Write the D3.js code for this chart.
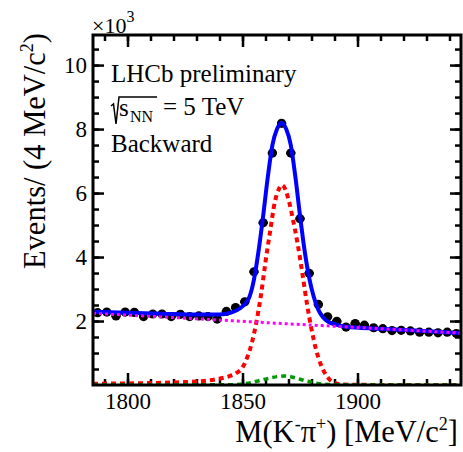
<!DOCTYPE html>
<html><head><meta charset="utf-8">
<script src="https://cdn.jsdelivr.net/npm/d3@7"></script>
<style>body{margin:0;background:#fff}</style>
</head><body>
<svg id="c" width="463" height="452"></svg>
<script>
// ---------- data (counts in units of 10^3 per 4 MeV bin) ----------
const binCenters = [1787,1791,1795,1799,1803,1807,1811,1815,1819,1823,
                    1827,1831,1835,1839,1843,1847,1851,1855,1859,1863,
                    1867,1871,1875,1879,1883,1887,1891,1895,1899,1903,
                    1907,1911,1915,1919,1923,1927,1931,1935,1939,1943];
const binCounts  = [2.26,2.28,2.16,2.28,2.27,2.14,2.22,2.22,2.14,2.21,
                    2.14,2.16,2.14,2.06,2.30,2.42,2.60,3.54,5.07,7.25,
                    8.18,7.25,5.20,3.49,2.52,2.13,1.99,1.81,1.92,1.87,
                    1.79,1.76,1.70,1.71,1.69,1.65,1.65,1.63,1.65,1.61];
const binErrors  = [0.05,0.05,0.05,0.05,0.05,0.05,0.05,0.05,0.05,0.05,
                    0.05,0.05,0.05,0.05,0.05,0.05,0.05,0.06,0.07,0.085,
                    0.09,0.085,0.07,0.06,0.05,0.05,0.045,0.045,0.045,0.045,
                    0.04,0.04,0.04,0.04,0.04,0.04,0.04,0.04,0.04,0.04];
const binHalfWidth = 2;

// total fit (blue)
const totalX = [1785,1800,1815,1830,1840,1845,1849,1851,1853,1855,1857,1859,1861,1863,1865,1867,
                1869,1871,1873,1875,1877,1879,1881,1883,1885,1887,1890,1895,1910,1925,1945];
const totalY = [2.29,2.26,2.23,2.20,2.20,2.26,2.40,2.53,2.75,3.30,4.20,5.30,6.50,7.50,8.00,8.20,
                8.00,7.50,6.50,5.30,4.20,3.35,2.75,2.35,2.12,1.99,1.90,1.82,1.76,1.70,1.62];
// signal (red dashed)
const signalX = [1785,1800,1815,1825,1835,1840,1844,1847,1850,1852,1854,1856,1858,1860,1862,1864,1866,1867,
                 1868,1870,1872,1874,1876,1878,1880,1882,1884,1886,1888,1890,1893,1900,1945];
const signalY = [0.04,0.05,0.07,0.09,0.14,0.20,0.27,0.36,0.55,0.85,1.30,1.95,2.80,3.85,4.80,5.70,6.15,6.25,
                 6.20,5.80,5.15,4.40,3.50,2.55,1.75,1.10,0.65,0.35,0.16,0.07,0.02,0.005,0.0];
// second peak component (green dashed)
const peak2X = [1785,1845,1850,1854,1858,1862,1866,1868,1871,1874,1878,1882,1886,1890,1945];
const peak2Y = [0.0,0.01,0.03,0.08,0.15,0.22,0.27,0.28,0.26,0.20,0.12,0.06,0.02,0.005,0.0];
// combinatorial background (magenta dotted)
const bkgX = [1785,1825,1865,1905,1945];
const bkgY = [2.24,2.09,1.93,1.78,1.62];

// axis ranges and ticks
const xDomain = [1785, 1945];
const yDomain = [0, 10.94];
const xMajorTicks = [1800, 1850, 1900];
const xTickLabels = ["1800", "1850", "1900"];
const yMajorTicks = [2, 4, 6, 8, 10];
const yTickLabels = ["2", "4", "6", "8", "10"];

// ---------- drawing ----------
const svg = d3.select('#c');
const FONT = '"Liberation Serif","Times New Roman",serif';
const X0 = 93, X1 = 461, Y0 = 385, Y1 = 35;
const x = d3.scaleLinear().domain(xDomain).range([X0, X1]);
const y = d3.scaleLinear().domain(yDomain).range([Y0, Y1]);

svg.append('clipPath').attr('id','clip').append('rect')
  .attr('x',X0).attr('y',Y1).attr('width',X1-X0).attr('height',Y0-Y1);

const xMinor = d3.range(1790, 1945, 10);
const yMinor = d3.range(0.5, 10.94, 0.5);

function styleAxis(g){
  g.select('.domain').remove();
  g.selectAll('.tick line').attr('stroke','#000').attr('stroke-width',2.5);
  g.attr('font-family', FONT).attr('font-size', 23);
  g.selectAll('.tick text').attr('fill','#000');
}
// bottom
svg.append('g').attr('transform',`translate(0,${Y0})`)
  .call(d3.axisBottom(x).tickValues(xMinor).tickSizeInner(-6).tickSizeOuter(0).tickFormat(''))
  .call(styleAxis);
svg.append('g').attr('transform',`translate(0,${Y0})`)
  .call(d3.axisBottom(x).tickValues(xMajorTicks).tickSizeInner(-12).tickSizeOuter(0).tickPadding(8)
        .tickFormat((d,i)=>xTickLabels[i]))
  .call(styleAxis);
// top
svg.append('g').attr('transform',`translate(0,${Y1})`)
  .call(d3.axisTop(x).tickValues(xMinor).tickSizeInner(-6).tickSizeOuter(0).tickFormat(''))
  .call(styleAxis);
svg.append('g').attr('transform',`translate(0,${Y1})`)
  .call(d3.axisTop(x).tickValues(xMajorTicks).tickSizeInner(-12).tickSizeOuter(0).tickFormat(''))
  .call(styleAxis);
// left
svg.append('g').attr('transform',`translate(${X0},0)`)
  .call(d3.axisLeft(y).tickValues(yMinor).tickSizeInner(-6).tickSizeOuter(0).tickFormat(''))
  .call(styleAxis);
svg.append('g').attr('transform',`translate(${X0},0)`)
  .call(d3.axisLeft(y).tickValues(yMajorTicks).tickSizeInner(-11).tickSizeOuter(0).tickPadding(6)
        .tickFormat((d,i)=>yTickLabels[i]))
  .call(styleAxis);
// right
svg.append('g').attr('transform',`translate(${X1},0)`)
  .call(d3.axisRight(y).tickValues(yMinor).tickSizeInner(-6).tickSizeOuter(0).tickFormat(''))
  .call(styleAxis);
svg.append('g').attr('transform',`translate(${X1},0)`)
  .call(d3.axisRight(y).tickValues(yMajorTicks).tickSizeInner(-11).tickSizeOuter(0).tickFormat(''))
  .call(styleAxis);

// data points
const pts = svg.append('g').attr('clip-path','url(#clip)');
const data = binCenters.map((c,i)=>({c, v: binCounts[i], e: binErrors[i]}));
pts.selectAll('line.h').data(data).join('line')
  .attr('x1',d=>x(d.c-binHalfWidth)).attr('x2',d=>x(d.c+binHalfWidth))
  .attr('y1',d=>y(d.v)).attr('y2',d=>y(d.v))
  .attr('stroke','#000').attr('stroke-width',2.5);
pts.selectAll('line.v').data(data).join('line')
  .attr('x1',d=>x(d.c)).attr('x2',d=>x(d.c))
  .attr('y1',d=>y(d.v-d.e)).attr('y2',d=>y(d.v+d.e))
  .attr('stroke','#000').attr('stroke-width',2.5);
pts.selectAll('circle').data(data).join('circle')
  .attr('cx',d=>x(d.c)).attr('cy',d=>y(d.v)).attr('r',4.6).attr('fill','#000');

// curves
const curves = svg.append('g').attr('clip-path','url(#clip)');
function drawCurve(xs, ys, color, width, dash){
  const line = d3.line().x(d=>x(d[0])).y(d=>y(d[1])).curve(d3.curveMonotoneX);
  curves.append('path').attr('d', line(xs.map((v,i)=>[v, ys[i]])))
    .attr('fill','none').attr('stroke',color).attr('stroke-width',width)
    .attr('stroke-dasharray', dash || null);
}
drawCurve(totalX, totalY, '#0000ff', 4, null);
drawCurve(signalX, signalY, '#ff0000', 4, '5,4');
drawCurve(peak2X, peak2Y, '#009a00', 3.5, '5,4');
drawCurve(bkgX, bkgY, '#ff00ff', 3, '3,3');

// frame
svg.append('rect').attr('x',X0).attr('y',Y1).attr('width',X1-X0).attr('height',Y0-Y1)
  .attr('fill','none').attr('stroke','#000').attr('stroke-width',3);

// multiplier
const mult = svg.append('text').attr('x',92).attr('y',33).attr('font-family',FONT).attr('font-size',22);
mult.append('tspan').text('×10');
mult.append('tspan').attr('dy',-11).attr('font-size',16).text('3');

// axis titles
const xt = svg.append('text').attr('x',458).attr('y',442).attr('text-anchor','end')
  .attr('font-family',FONT).attr('font-size',30.5);
xt.append('tspan').text('M(K');
xt.append('tspan').attr('dy',-12).attr('font-size',18).text('-');
xt.append('tspan').attr('dy',12).text('π');
xt.append('tspan').attr('dy',-12).attr('font-size',18).text('+');
xt.append('tspan').attr('dy',12).text(') [MeV/c');
xt.append('tspan').attr('dy',-12).attr('font-size',18).text('2');
xt.append('tspan').attr('dy',12).text(']');

const yt = svg.append('text').attr('transform','translate(45,33) rotate(-90)').attr('text-anchor','end')
  .attr('font-family',FONT).attr('font-size',30.5);
yt.append('tspan').text('Events/ (4 MeV/c');
yt.append('tspan').attr('dy',-12).attr('font-size',18).text('2');
yt.append('tspan').attr('dy',12).text(')');

// legend text
svg.append('text').attr('x',111).attr('y',82).attr('font-family',FONT).attr('font-size',25).text('LHCb preliminary');
svg.append('path').attr('d','M111,106 L113.5,104 L116,124 L119,97 L157,97')
  .attr('fill','none').attr('stroke','#000').attr('stroke-width',1.5);
svg.append('text').attr('x',119).attr('y',116).attr('font-family',FONT).attr('font-size',25).text('s');
svg.append('text').attr('x',130).attr('y',122).attr('font-family',FONT).attr('font-size',16).text('NN');
svg.append('text').attr('x',163).attr('y',115).attr('font-family',FONT).attr('font-size',25).text('= 5 TeV');
svg.append('text').attr('x',111).attr('y',152).attr('font-family',FONT).attr('font-size',25).text('Backward');
</script>
</body></html>
